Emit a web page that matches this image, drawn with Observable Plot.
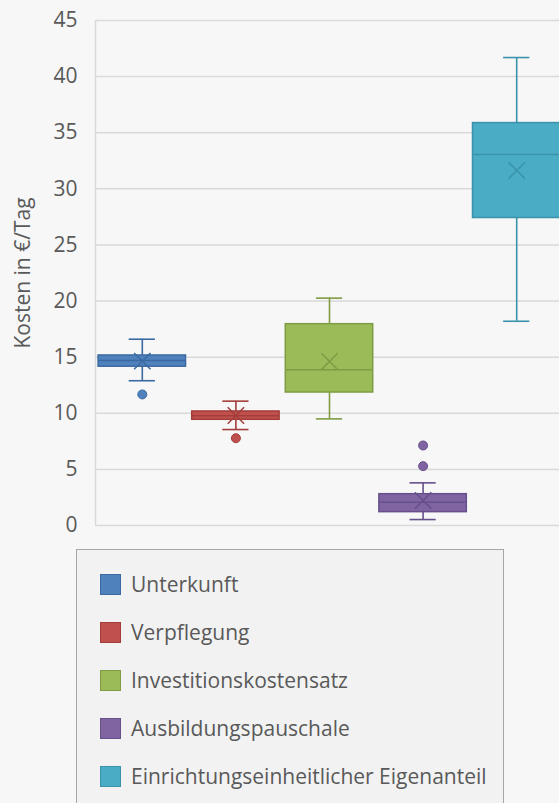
<!DOCTYPE html>
<html><head><meta charset="utf-8">
<script src="https://cdn.jsdelivr.net/npm/d3@7"></script>
<script src="https://cdn.jsdelivr.net/npm/@observablehq/plot@0.6"></script>
<style>
html,body{margin:0;padding:0;background:#f7f7f7;overflow:hidden;width:559px;height:803px;position:relative;}
#chart{position:absolute;left:0;top:0;}
#chart svg{max-width:none !important;}
#legend{position:absolute;left:76px;top:549px;width:428px;height:270px;background:#f2f2f2;border:1.5px solid #a6a6a6;box-sizing:border-box;font-family:"Open Sans",sans-serif;font-size:21px;color:#595959;}
.row{position:absolute;left:23px;display:flex;align-items:center;height:28px;white-space:nowrap;}
.sw{width:21px;height:21px;box-sizing:border-box;border:1px solid;margin-right:10px;flex:none;}
</style></head><body>
<div id="chart"></div><div id="legend"></div>
<script>
const categories = ["Unterkunft","Verpflegung","Investitionskostensatz","Ausbildungspauschale","Einrichtungseinheitlicher Eigenanteil"];
const fills = ["#4f81bd","#c0504d","#9bbb59","#8064a2","#4bacc6"];
const strokes = ["#3b6aa3","#a33d3a","#7f9c44","#65508a","#3a93aa"];
const whiskerLow = [12.9, 8.55, 9.5, 0.53, 18.2];
const q1 = [14.15, 9.42, 11.85, 1.19, 27.4];
const median = [14.7, 9.78, 13.87, 2.08, 33.05];
const q3 = [15.15, 10.16, 17.94, 2.79, 35.86];
const whiskerHigh = [16.6, 11.08, 20.26, 3.8, 41.7];
const mean = [14.65, 9.8, 14.62, 2.23, 31.64];
const outlierCategory = ["Unterkunft","Verpflegung","Ausbildungspauschale","Ausbildungspauschale"];
const outlierValue = [11.68, 7.78, 7.13, 5.29];
const yTicks = [0,5,10,15,20,25,30,35,40,45];
const yLabel = "Kosten in €/Tag";

const rows = categories.map((c,i)=>({cat:c,i,lo:whiskerLow[i],q1:q1[i],med:median[i],q3:q3[i],hi:whiskerHigh[i],mean:mean[i],fill:fills[i],stroke:strokes[i]}));
const outliers = outlierCategory.map((c,k)=>{const i=categories.indexOf(c);return {i,v:outlierValue[k],fill:fills[i],stroke:strokes[i]};});
const bw = 0.467, cw = 0.14;
const font = "Open Sans";

const plot = Plot.plot({
  width: 565, height: 540,
  marginLeft: 95, marginRight: 2, marginTop: 20, marginBottom: 15,
  style: {background: "transparent", fontFamily: font, maxWidth: "none"},
  x: {domain: [-0.5, 4.5], axis: null},
  y: {domain: [0, 45]},
  color: {type: "identity"},
  marks: [
    Plot.gridY(yTicks, {stroke: "#d9d9d9", strokeOpacity: 1, strokeWidth: 1.5}),
    Plot.ruleX([0], {x: () => -0.5, stroke: "#d9d9d9", strokeWidth: 1.5}),
    Plot.axisY({ticks: yTicks, tickSize: 0, tickPadding: 18, fontSize: 21, fill: "#595959", label: null}),
    Plot.text([yLabel], {frameAnchor: "left", textAnchor: "middle", rotate: -90, dx: -72, fontSize: 21, fill: "#595959", text: d => d}),
    Plot.ruleX(rows, {x: "i", y1: "lo", y2: "hi", stroke: "stroke", strokeWidth: 1.6}),
    Plot.ruleY(rows, {y: "lo", x1: d => d.i - cw, x2: d => d.i + cw, stroke: "stroke", strokeWidth: 1.6}),
    Plot.ruleY(rows, {y: "hi", x1: d => d.i - cw, x2: d => d.i + cw, stroke: "stroke", strokeWidth: 1.6}),
    Plot.rect(rows, {x1: d => d.i - bw, x2: d => d.i + bw, y1: "q1", y2: "q3", fill: "fill", stroke: "stroke", strokeWidth: 1.5}),
    Plot.ruleY(rows, {y: "med", x1: d => d.i - bw, x2: d => d.i + bw, stroke: "stroke", strokeWidth: 1.5}),
    Plot.dot(rows, {x: "i", y: "mean", symbol: "times", r: 7.5, stroke: "stroke", strokeWidth: 1.5}),
    Plot.dot(outliers, {x: "i", y: "v", r: 4.5, fill: "fill", stroke: "stroke", strokeWidth: 1})
  ]
});
document.getElementById("chart").appendChild(plot);

const legend = document.getElementById("legend");
categories.forEach((c,i)=>{
  const row = document.createElement("div");
  row.className = "row";
  row.style.top = (20 + i*48) + "px";
  const sw = document.createElement("div");
  sw.className = "sw";
  sw.style.background = fills[i];
  sw.style.borderColor = strokes[i];
  const t = document.createElement("span");
  t.textContent = c;
  row.appendChild(sw); row.appendChild(t);
  legend.appendChild(row);
});
</script>
</body></html>
